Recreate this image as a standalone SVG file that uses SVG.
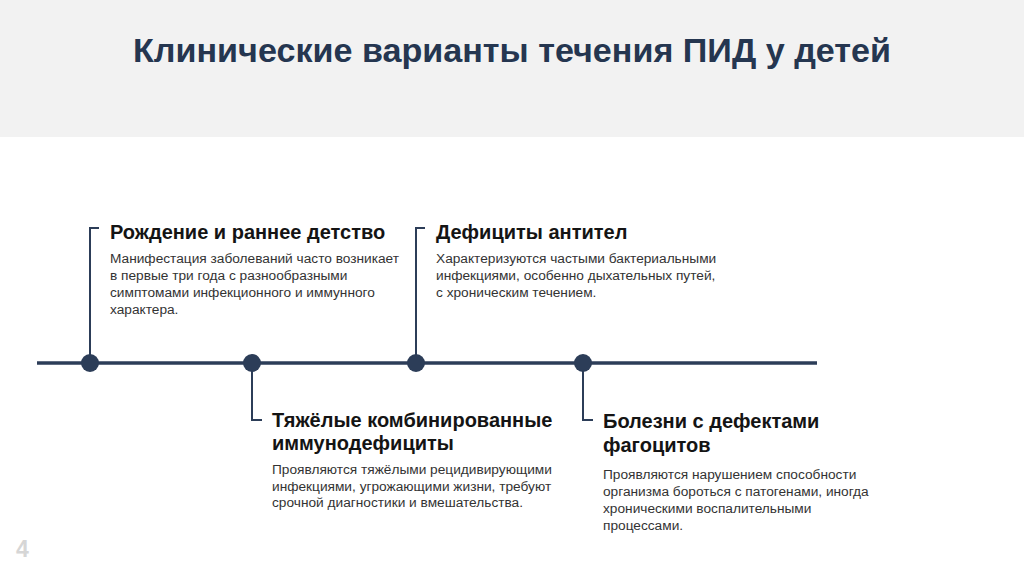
<svg xmlns="http://www.w3.org/2000/svg" width="1024" height="574" viewBox="0 0 1024 574">
<style>
.title{font-family:"Liberation Sans",Arial,sans-serif;font-weight:bold;font-size:34px;fill:#253650}
.h{font-family:"Liberation Sans",Arial,sans-serif;font-weight:bold;font-size:20px;fill:#141414}
.b{font-family:"Liberation Sans",Arial,sans-serif;font-size:13.7px;fill:#333333}
.ln{stroke:#2c3d58;fill:none}
.dot{fill:#2c3d58}
.pg{font-family:"Liberation Sans",Arial,sans-serif;font-weight:bold;font-size:23px;fill:#d6d6d6}
</style>
<rect x="0" y="0" width="1024" height="574" fill="#ffffff"/>
<rect x="0" y="0" width="1024" height="137" fill="#f2f2f2"/>
<text class="title" x="133" y="62" textLength="758" lengthAdjust="spacingAndGlyphs">Клинические варианты течения ПИД у детей</text>
<g id="connectors">
<line class="ln" x1="37" y1="363" x2="817" y2="363" stroke-width="3.5"/>
<polyline class="ln" points="99,228 90,228 90,363" stroke-width="2"/>
<polyline class="ln" points="425,228 416,228 416,363" stroke-width="2"/>
<polyline class="ln" points="252,363 252,420 262,420" stroke-width="2"/>
<polyline class="ln" points="583,363 583,420 593,420" stroke-width="2"/>
</g>
<g id="node1">
<circle class="dot" cx="90" cy="363" r="9"/>
<text class="h" x="110" y="239">Рождение и раннее детство</text>
<text class="b" x="110" y="263">Манифестация заболеваний часто возникает</text>
<text class="b" x="110" y="280">в первые три года с разнообразными</text>
<text class="b" x="110" y="297">симптомами инфекционного и иммунного</text>
<text class="b" x="110" y="314">характера.</text>
</g>
<g id="node2">
<circle class="dot" cx="252" cy="363" r="9"/>
<text class="h" x="272" y="427">Тяжёлые комбинированные</text>
<text class="h" x="272" y="450">иммунодефициты</text>
<text class="b" x="272" y="474">Проявляются тяжёлыми рецидивирующими</text>
<text class="b" x="272" y="491">инфекциями, угрожающими жизни, требуют</text>
<text class="b" x="272" y="507">срочной диагностики и вмешательства.</text>
</g>
<g id="node3">
<circle class="dot" cx="416" cy="363" r="9"/>
<text class="h" x="436" y="239">Дефициты антител</text>
<text class="b" x="436" y="263">Характеризуются частыми бактериальными</text>
<text class="b" x="436" y="280">инфекциями, особенно дыхательных путей,</text>
<text class="b" x="436" y="297">с хроническим течением.</text>
</g>
<g id="node4">
<circle class="dot" cx="583" cy="363" r="9"/>
<text class="h" x="603" y="428">Болезни с дефектами</text>
<text class="h" x="603" y="452">фагоцитов</text>
<text class="b" x="603" y="479">Проявляются нарушением способности</text>
<text class="b" x="603" y="496">организма бороться с патогенами, иногда</text>
<text class="b" x="603" y="513">хроническими воспалительными</text>
<text class="b" x="603" y="530">процессами.</text>
</g>
<text class="pg" x="16" y="557">4</text>
</svg>
